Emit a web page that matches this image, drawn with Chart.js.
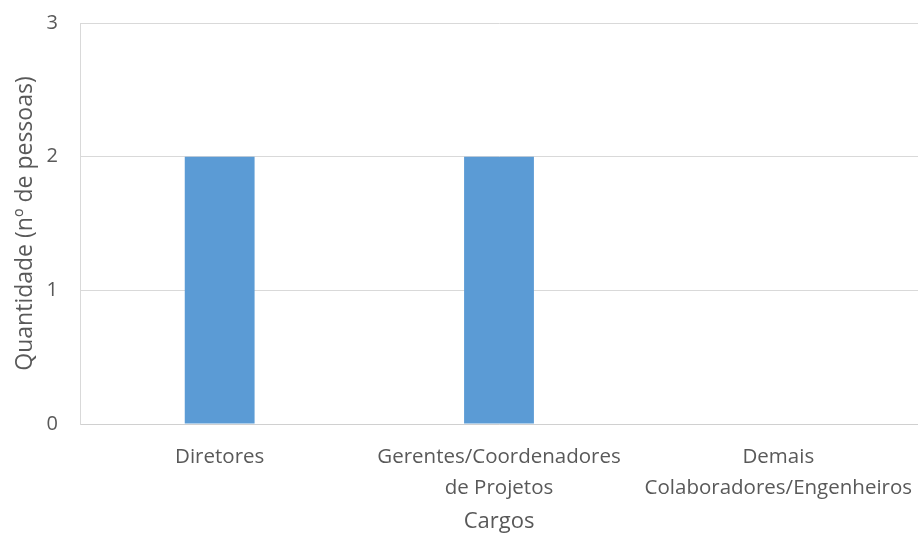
<!DOCTYPE html>
<html>
<head>
<meta charset="utf-8">
<script src="https://cdn.jsdelivr.net/npm/chart.js@4"></script>
<style>
  html, body { margin: 0; padding: 0; background: #fff; }
  #wrap { width: 918px; height: 535px; }
</style>
</head>
<body>
<div id="wrap"><canvas id="cargos"></canvas></div>
<script>
const cargos = ['Diretores', ['Gerentes/Coordenadores', 'de Projetos'], ['Demais', 'Colaboradores/Engenheiros']];
const quantidade = [2, 2, 0];
const yTicks = [0, 1, 2, 3];

const textColor = '#595959';
const font = 'Open Sans';

const ctx = document.getElementById('cargos').getContext('2d');
new Chart(ctx, {
  type: 'bar',
  data: {
    labels: cargos,
    datasets: [{
      data: quantidade,
      backgroundColor: '#5b9bd5',
      barPercentage: 0.25,
      categoryPercentage: 1
    }]
  },
  options: {
    responsive: true,
    maintainAspectRatio: false,
    animation: false,
    layout: { padding: { top: 23, right: 0, left: 12, bottom: 0 } },
    plugins: { legend: { display: false }, tooltip: { enabled: false } },
    scales: {
      x: {
        grid: { display: false },
        border: { color: '#d0d0d0', width: 1 },
        ticks: { color: textColor, font: { family: font, size: 20.5, lineHeight: 1.5 }, padding: 10, maxRotation: 0 },
        title: { display: true, text: 'Cargos', color: textColor, font: { family: font, size: 22 }, padding: 0 },
        afterFit: (scale) => {
          scale.height = 111;
          // let the last label run to the canvas edge
          scale.paddingLeft = 0;
          scale.paddingRight = 0;
        }
      },
      y: {
        min: 0,
        max: 3,
        afterBuildTicks: (scale) => { scale.ticks = yTicks.map(v => ({ value: v })); },
        grid: { color: '#d9d9d9', drawTicks: false },
        border: { color: '#d9d9d9' },
        ticks: { color: textColor, font: { family: font, size: 20 }, padding: 22 },
        title: { display: true, text: 'Quantidade (nº de pessoas)', color: textColor, font: { family: font, size: 23 }, padding: 0 },
        afterFit: (scale) => {
          scale.width = 68;
          scale.paddingTop = 0;
          scale.paddingBottom = 0;
        }
      }
    }
  }
});
</script>
</body>
</html>
